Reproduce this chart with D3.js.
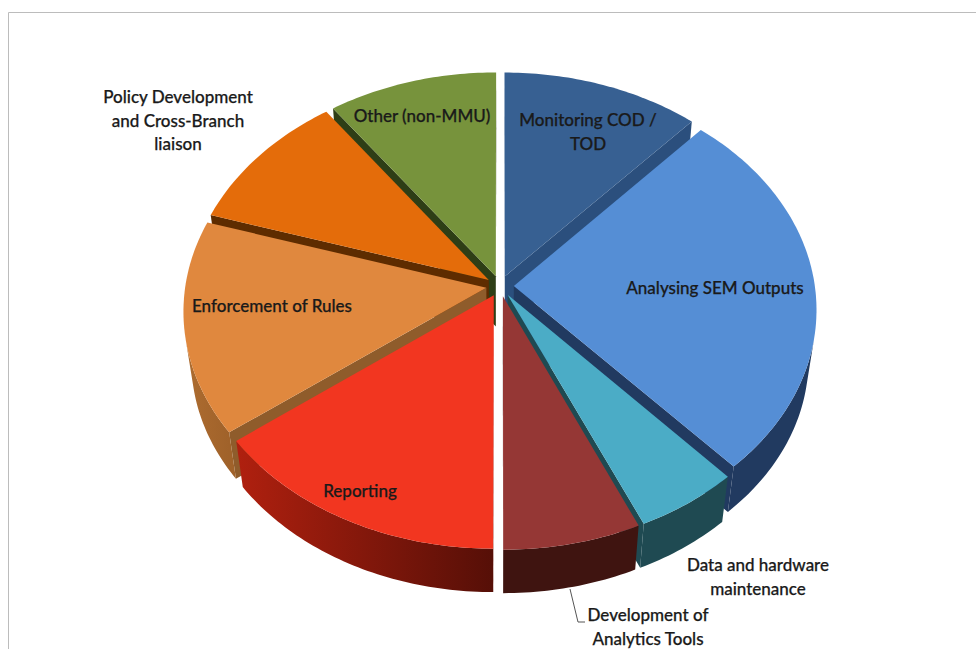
<!DOCTYPE html>
<html>
<head>
<meta charset="utf-8">
<script src="https://cdn.jsdelivr.net/npm/d3@7/dist/d3.min.js"></script>
<style>
  html, body { margin: 0; padding: 0; background: #fff; }
  svg { display: block; }
  text { font-family: Lato, "Open Sans", sans-serif; font-weight: 500; font-size: 17px; fill: #1a1a1a; stroke: #1a1a1a; stroke-width: 0.25px; }
</style>
</head>
<body>
<svg id="chart" width="976" height="649"></svg>
<script>
// Share of effort per activity, clockwise from twelve o'clock
const categories = [
  "Monitoring COD / TOD", "Analysing SEM Outputs", "Data and hardware maintenance",
  "Development of Analytics Tools", "Reporting", "Enforcement of Rules",
  "Policy Development and Cross-Branch liaison", "Other (non-MMU)"
];
const shares = [11.7, 26.55, 5.08, 6.67, 14.75, 15.05, 10.2, 10.0];

// Top face, radial cut face, and the two ends of the rim shading
const topColors   = ["#376092", "#558ed5", "#4bacc6", "#953735", "#f23620", "#e0883e", "#e46c0a", "#77933c"];
const cutColors   = ["#2b4f7d", "#213a60", "#1f4a52", "#3f1410", "#7a1a0e", "#8f5c2b", "#5e2c00", "#2e3e16"];
const rimStart    = ["#2b4f7d", "#213a60", "#1f4a52", "#3f1410", "#b0200f", "#ad6c30", "#8a4508", "#4a5c22"];
const rimEnd      = ["#2b4f7d", "#213a60", "#1f4a52", "#3f1410", "#560f07", "#a0622a", "#8a4508", "#4a5c22"];

// Wrapped label lines with the centre of the first line and the line height
const labelBlocks = [
  { lines: ["Monitoring COD /", "TOD"], at: [588, 126] },
  { lines: ["Analysing SEM Outputs"], at: [715, 294] },
  { lines: ["Data and hardware", "maintenance"], at: [758, 571] },
  { lines: ["Development of", "Analytics Tools"], at: [648, 621] },
  { lines: ["Reporting"], at: [360, 497] },
  { lines: ["Enforcement of Rules"], at: [272, 312] },
  { lines: ["Policy Development", "and Cross-Branch", "liaison"], at: [178, 103] },
  { lines: ["Other (non-MMU)"], at: [422, 122] }
];
const labelLineHeight = 23.5;
const leaderPoints = [[570, 589], [578, 622], [585, 622]];

const width = 976, height = 649;
const svg = d3.select("#chart");
const defs = svg.append("defs");

// Perspective view of the disc
const view = { cx: 500, cy: 286, rx: 301, ry: 226, persp: 0.1, burst: 0.046, shrink: 0.975, drop: 50 };

function project(u, v) {
  const w = 1 - view.persp * v;
  return [view.cx + view.rx * u / w, view.cy + view.ry * v / w];
}
// The underside is a slightly smaller copy of the top pushed down the page
function lower(p) {
  return [view.cx + (p[0] - view.cx) * view.shrink,
          view.cy + (p[1] - view.cy) * view.shrink + view.drop];
}
// A wall whose top edge runs a -> b is seen from outside only when this is positive
function facesViewer(a, b) {
  return d3.polygonArea([a, b, lower(b), lower(a)]) > 0;
}

const pie = d3.pie().sort(null).value(d => d).startAngle(0).endAngle(2 * Math.PI);
const line = d3.line();

const slices = pie(shares).map((d, i) => {
  const mid = (d.startAngle + d.endAngle) / 2;
  const ou = view.burst * Math.sin(mid), ov = -view.burst * Math.cos(mid);
  const onDisc = (a, r) => project(ou + r * Math.sin(a), ov - r * Math.cos(a));
  const steps = Math.max(8, Math.round((d.endAngle - d.startAngle) * 60));
  const arc = d3.range(steps + 1).map(k =>
    onDisc(d.startAngle + (d.endAngle - d.startAngle) * k / steps, 1));
  return { i, mid, depth: ov, apex: onDisc(0, 0), arc };
});

// Rear pieces first so that nearer pieces cover them
slices.sort((a, b) => a.depth - b.depth);

const pieces = svg.append("g");
slices.forEach(s => {
  const g = pieces.append("g").attr("class", "slice");
  const first = s.arc[0], last = s.arc[s.arc.length - 1];

  // Radial cut faces, only those turned towards the viewer
  if (facesViewer(s.apex, first)) {
    g.append("path").attr("d", line([s.apex, first, lower(first), lower(s.apex)]) + "Z")
      .attr("fill", cutColors[s.i]);
  }
  if (facesViewer(last, s.apex)) {
    g.append("path").attr("d", line([last, s.apex, lower(s.apex), lower(last)]) + "Z")
      .attr("fill", cutColors[s.i]);
  }

  // Outer rim: the run of arc segments turned towards the viewer
  const facing = d3.range(s.arc.length - 1).filter(k => facesViewer(s.arc[k], s.arc[k + 1]));
  if (facing.length) {
    const run = s.arc.slice(d3.min(facing), d3.max(facing) + 2);
    const gradId = "rim" + s.i;
    const [x0, x1] = d3.extent(run, p => p[0]);
    const grad = defs.append("linearGradient").attr("id", gradId)
      .attr("gradientUnits", "userSpaceOnUse")
      .attr("x1", x0).attr("x2", x1).attr("y1", 0).attr("y2", 0);
    grad.append("stop").attr("offset", 0).attr("stop-color", rimStart[s.i]);
    grad.append("stop").attr("offset", 1).attr("stop-color", rimEnd[s.i]);
    const rim = run.concat(run.map(lower).reverse());
    g.append("path").attr("d", line(rim) + "Z").attr("fill", `url(#${gradId})`);
  }

  // Top face
  g.append("path").attr("d", line([s.apex].concat(s.arc)) + "Z").attr("fill", topColors[s.i]);
});

// Chart area border, cut off by the window on the right and bottom
svg.append("path")
  .attr("d", line([[8.5, height], [8.5, 12.5], [width, 12.5]]))
  .attr("fill", "none").attr("stroke", "#bcbcbc").attr("stroke-width", 1);

// Leader from the small slice to its label
svg.append("path").attr("d", line(leaderPoints))
  .attr("fill", "none").attr("stroke", "#555").attr("stroke-width", 1);

const labels = svg.append("g");
labelBlocks.forEach(b => {
  const t = labels.append("text").attr("text-anchor", "middle");
  b.lines.forEach((ln, k) => {
    t.append("tspan").attr("x", b.at[0]).attr("y", b.at[1] + k * labelLineHeight).text(ln);
  });
});
</script>
</body>
</html>
